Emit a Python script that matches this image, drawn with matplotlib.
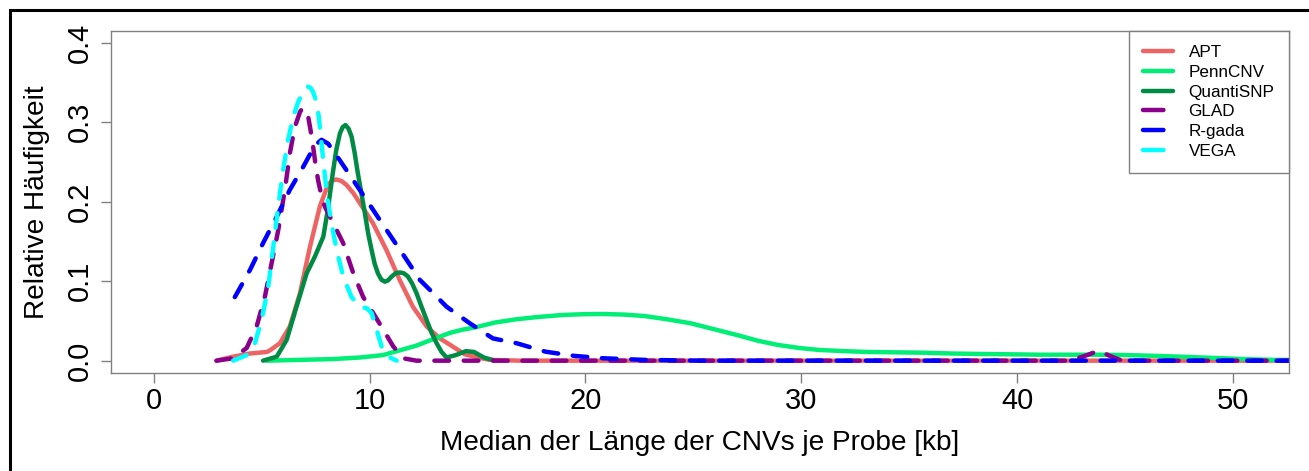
import matplotlib
matplotlib.use("Agg")
import matplotlib.pyplot as plt
from matplotlib.lines import Line2D
from matplotlib.patches import Rectangle

plt.rcParams['font.family'] = ['Liberation Sans', 'DejaVu Sans']

# Dichteschaetzungen: Median der CNV-Laenge je Probe [kb] -> relative Haeufigkeit
apt_x = [2.9, 3.2, 3.66, 4.05, 4.45, 4.85, 5.24, 5.38, 5.84, 6.30, 6.77, 7.23, 7.69, 8.06, 8.27,
         8.47, 8.70, 8.93, 9.24, 9.55, 10.15, 10.78, 11.40, 12.00, 12.64, 13.25, 13.72, 14.41,
         15.0, 15.57, 16.96, 53.5]
apt_y = [0.0, 0.002, 0.005, 0.007, 0.009, 0.010, 0.011, 0.013, 0.022, 0.043, 0.085, 0.143, 0.194,
         0.221, 0.227, 0.228, 0.226, 0.221, 0.211, 0.198, 0.173, 0.139, 0.101, 0.068, 0.043, 0.028,
         0.020, 0.008, 0.004, 0.001, 0.0, 0.0]

penn_x = [5.22, 6.77, 8.29, 9.55, 10.61, 11.40, 12.17, 12.74, 13.72, 14.3, 14.91, 15.8, 16.77,
          17.8, 18.95, 19.9, 20.85, 21.8, 22.73, 23.8, 24.88, 25.9, 27.06, 28.0, 28.94, 29.9,
          30.82, 32.0, 33.0, 34.3, 35.68, 37.0, 38.37, 39.7, 41.06, 42.4, 43.79, 45.1, 46.48,
          47.8, 49.17, 50.5, 51.85, 54.0]
penn_y = [0.0, 0.001, 0.002, 0.004, 0.007, 0.013, 0.019, 0.025, 0.035, 0.039, 0.042, 0.048, 0.052,
          0.055, 0.0575, 0.0585, 0.0587, 0.058, 0.0562, 0.052, 0.047, 0.040, 0.032, 0.025, 0.0197,
          0.016, 0.0135, 0.012, 0.011, 0.0105, 0.010, 0.009, 0.0084, 0.008, 0.0075, 0.0075, 0.0075,
          0.007, 0.006, 0.0048, 0.0034, 0.002, 0.001, 0.0005]

qsnp_x = [5.06, 5.69, 6.15, 6.61, 7.08, 7.46, 7.85, 8.06, 8.29, 8.45, 8.62, 8.75, 8.88, 9.02,
          9.16, 9.30, 9.45, 9.62, 9.78, 9.93, 10.09, 10.23, 10.38, 10.54, 10.70, 10.85, 11.01,
          11.2, 11.40, 11.58, 11.77, 11.97, 12.17, 12.4, 12.64, 12.87, 13.10, 13.33, 13.56,
          13.99, 14.46, 14.83, 15.29, 15.80]
qsnp_y = [0.0, 0.005, 0.026, 0.068, 0.110, 0.131, 0.156, 0.190, 0.236, 0.265, 0.286, 0.294,
          0.2965, 0.292, 0.282, 0.262, 0.236, 0.21, 0.185, 0.160, 0.139, 0.122, 0.110, 0.102,
          0.0994, 0.101, 0.1057, 0.110, 0.111, 0.110, 0.106, 0.097, 0.085, 0.068, 0.051, 0.035,
          0.022, 0.011, 0.004, 0.007, 0.012, 0.011, 0.004, 0.0]

glad_x = [2.9, 3.66, 4.30, 4.76, 5.14, 5.45, 5.76, 6.07, 6.30, 6.53, 6.77, 6.86, 6.95, 7.05, 7.15,
          7.26, 7.38, 7.49, 7.61, 7.76, 7.92, 8.31, 8.77, 9.24, 9.70, 10.16, 10.63, 11.09, 11.55,
          12.17, 42.45, 43.14, 43.79, 44.30, 44.86, 53.5]
glad_y = [0.0, 0.003, 0.016, 0.043, 0.080, 0.122, 0.164, 0.215, 0.261, 0.294, 0.313, 0.317,
          0.3175, 0.315, 0.307, 0.29, 0.269, 0.247, 0.227, 0.208, 0.194, 0.173, 0.148, 0.110,
          0.080, 0.060, 0.039, 0.018, 0.003, 0.0, 0.0, 0.006, 0.0126, 0.006, 0.0, 0.0]

rgada_x = [3.75, 4.45, 5.06, 5.69, 6.30, 6.92, 7.46, 7.77, 8.08, 8.62, 9.24, 9.86, 10.47, 11.09,
           11.71, 12.33, 12.94, 13.56, 14.64, 15.71, 16.80, 18.15, 19.49, 20.85, 22.73, 25.3, 53.5]
rgada_y = [0.080, 0.114, 0.148, 0.181, 0.215, 0.244, 0.271, 0.278, 0.273, 0.252, 0.227, 0.202,
           0.177, 0.152, 0.127, 0.1015, 0.085, 0.068, 0.047, 0.028, 0.022, 0.0113, 0.006, 0.003,
           0.001, 0.0, 0.0]

vega_x = [3.67, 4.30, 4.68, 4.99, 5.30, 5.53, 5.76, 5.99, 6.22, 6.46, 6.69, 6.92, 7.03, 7.15,
          7.27, 7.38, 7.48, 7.57, 7.65, 7.72, 7.88, 8.03, 8.23, 8.47, 8.77, 9.16, 9.55, 9.86,
          10.09, 10.32, 10.55, 10.86, 11.25]
vega_y = [0.0, 0.007, 0.022, 0.051, 0.093, 0.143, 0.194, 0.240, 0.278, 0.307, 0.326, 0.338, 0.343,
          0.345, 0.343, 0.338, 0.33, 0.320, 0.305, 0.286, 0.244, 0.206, 0.173, 0.139, 0.106, 0.080,
          0.068, 0.066, 0.060, 0.039, 0.018, 0.005, 0.0]

methoden = ['APT', 'PennCNV', 'QuantiSNP', 'GLAD', 'R-gada', 'VEGA']
farben = ['#EE6363', '#00EE76', '#008B45', '#8B008B', '#0000FF', '#00FFFF']
gestrichelt = [False, False, False, True, True, True]
kurven = [(apt_x, apt_y), (penn_x, penn_y), (qsnp_x, qsnp_y),
          (glad_x, glad_y), (rgada_x, rgada_y), (vega_x, vega_y)]

LW = 3.2
DASH = (3.3, 3.3)

fig = plt.figure(figsize=(13.09, 4.71), dpi=100)
ax = fig.add_axes([0.0846, 0.2081, 0.9001, 0.7271])

for (xs, ys), name, col, gs in zip(kurven, methoden, farben, gestrichelt):
    ln, = ax.plot(xs, ys, color=col, lw=LW, solid_capstyle='round',
                  dash_capstyle='round', solid_joinstyle='round', dash_joinstyle='round',
                  label=name)
    if gs:
        ln.set_dashes(DASH)

ax.set_xlim(-2.0, 52.6)
ax.set_ylim(-0.0155, 0.4155)
ax.set_xticks([0, 10, 20, 30, 40, 50])
ax.set_yticks([0.0, 0.1, 0.2, 0.3, 0.4])
ax.set_yticklabels(['0.0', '0.1', '0.2', '0.3', '0.4'])

for sp in ax.spines.values():
    sp.set_color('#808080')
    sp.set_linewidth(1.0)
ax.tick_params(axis='both', direction='out', length=7.2, width=1.0, color='#808080',
               labelsize=21, labelcolor='black')
ax.tick_params(axis='x', pad=3)
ax.tick_params(axis='y', pad=5)
plt.setp(ax.get_yticklabels(), rotation=90, va='center')

ax.set_xlabel('Median der Länge der CNVs je Probe [kb]', fontsize=20.2, va='center')
ax.set_ylabel('Relative Häufigkeit', fontsize=20.2, va='center')
ax.xaxis.set_label_coords(0.5, -0.2044)
ax.yaxis.set_label_coords(-0.0625, 0.5)

# Legende: gestrichelte Methoden mit nur einem Strich
griffe = []
for name, col, gs in zip(methoden, farben, gestrichelt):
    h = Line2D([], [], color=col, lw=LW, solid_capstyle='round', dash_capstyle='round')
    if gs:
        h.set_dashes((4.6, 10))
    griffe.append(h)
leg = ax.legend(griffe, methoden, loc='upper right', fontsize=12.3, frameon=True,
                fancybox=False, framealpha=1, edgecolor='#808080', borderaxespad=0,
                handlelength=1.75, handletextpad=0.9, labelspacing=0.28, borderpad=0.85)
leg.get_frame().set_linewidth(1.0)

# schwarzer Rahmen oben und links
fig.patches.append(Rectangle((9.5 / 1309, -0.2), 1.2, 1.2 - 9.5 / 471, transform=fig.transFigure,
                             fill=False, ec='black', lw=2.2))

fig.savefig('out.png', dpi=100)
